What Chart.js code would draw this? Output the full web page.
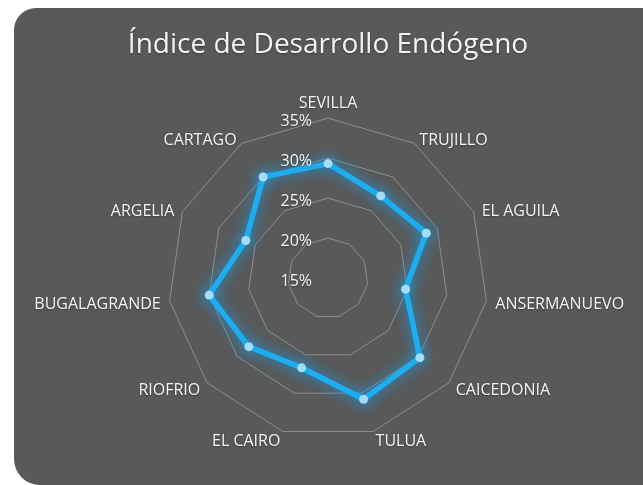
<!DOCTYPE html>
<html>
<head>
<meta charset="utf-8">
<script src="https://cdn.jsdelivr.net/npm/chart.js@4/dist/chart.umd.min.js"></script>
<style>
  html, body { margin: 0; padding: 0; background: #ffffff; }
  #wrap { position: relative; width: 643px; height: 485px; overflow: hidden; }
  #panel {
    position: absolute; left: 14px; top: 8px; width: 660px; height: 477px;
    background: #595959; border-radius: 22px 0 0 26px;
  }
  #corner {
    position: absolute; left: 600px; top: 440px; width: 60px; height: 60px;
    background: #ffffff;
    clip-path: polygon(100% 60%, 100% 100%, 60% 100%);
  }
  canvas { position: absolute; left: 0; top: 0; }
</style>
</head>
<body>
<div id="wrap">
  <div id="panel"></div>
  <div id="corner"></div>
  <canvas id="radar" width="643" height="485"></canvas>
</div>
<script>
const titulo = "Índice de Desarrollo Endógeno";
const municipios = [
  "SEVILLA", "TRUJILLO", "EL AGUILA", "ANSERMANUEVO", "CAICEDONIA", "TULUA",
  "EL CAIRO", "RIOFRIO", "BUGALAGRANDE", "ARGELIA", "CARTAGO",
];
const indice = [29.3, 27.2, 28.5, 24.8, 30.2, 30.8, 26.7, 28.1, 30.0, 26.3, 30.0];
const tickValues = [15, 20, 25, 30, 35];

// soft blue glow round the series
const glow = {
  id: "glow",
  beforeDatasetDraw(chart) {
    const ctx = chart.ctx;
    ctx.save();
    ctx.shadowColor = "rgba(20, 160, 240, 1)";
    ctx.shadowBlur = 14;
  },
  afterDatasetDraw(chart) {
    chart.ctx.restore();
  },
};

// title, tick labels left of the vertical axis, category labels placed the office way
const radarLabels = {
  id: "radarLabels",
  afterDraw(chart) {
    const scale = chart.scales.r;
    const ctx = chart.ctx;
    ctx.save();
    ctx.fillStyle = "#f4f4f4";
    ctx.shadowColor = "rgba(0, 0, 0, 0.35)";
    ctx.shadowBlur = 2;
    ctx.shadowOffsetY = 1;

    ctx.font = "28px 'Open Sans'";
    ctx.textAlign = "center";
    ctx.textBaseline = "middle";
    ctx.fillText(titulo, scale.xCenter, 45);

    ctx.font = "16px 'Open Sans'";
    ctx.textAlign = "right";
    tickValues.forEach((v) => {
      const d = scale.getDistanceFromCenterForValue(v);
      ctx.fillText(v + "%", scale.xCenter - 16, scale.yCenter - d + 3);
    });

    municipios.forEach((name, i) => {
      const p = scale.getPointPosition(i, scale.drawingArea);
      const s = Math.cos(p.angle); // horizontal direction
      const c = -Math.sin(p.angle); // vertical direction (up)
      if (Math.abs(s) < 0.05) {
        ctx.textAlign = "center";
        ctx.fillText(name, p.x, p.y - 15);
        return;
      }
      ctx.textAlign = s > 0 ? "left" : "right";
      ctx.fillText(name, p.x + 9 * s, p.y + 7 * (0.45 - c));
    });
    ctx.restore();
  },
};

const radarEl = document.getElementById("radar");
if (radarEl) {
  // eslint-disable-next-line no-unused-vars
  const radarChart = new Chart(radarEl, {
    type: "radar",
    data: {
      labels: municipios,
      datasets: [
        {
          label: "Índice",
          data: indice,
          borderColor: "#1eaef0",
          backgroundColor: "transparent",
          borderWidth: 5.5,
          pointBackgroundColor: "#a3dcf7",
          pointBorderColor: "#a3dcf7",
          pointBorderWidth: 0,
          pointRadius: 4.5,
          fill: false,
        },
      ],
    },
    options: {
      responsive: false,
      animation: false,
      layout: {
        padding: { left: 168, right: 155, top: 118, bottom: 47 },
      },
      plugins: {
        legend: { display: false },
        tooltip: { enabled: false },
        title: { display: false },
      },
      scales: {
        r: {
          min: 15,
          max: 35,
          ticks: { stepSize: 5, display: false },
          angleLines: { display: false },
          grid: { color: "#8e8e8e", lineWidth: 1 },
          pointLabels: { display: false },
        },
      },
    },
    plugins: [glow, radarLabels],
  });
}
</script>
</body>
</html>
